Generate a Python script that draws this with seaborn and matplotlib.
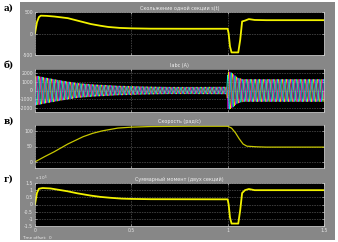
import numpy as np
import pandas as pd
import matplotlib
matplotlib.use("Agg")
import matplotlib.pyplot as plt
import seaborn as sns

sns.set_theme(style="dark")
plt.rcParams['font.family'] = ['DejaVu Sans']

# ---- data ----
panel_labels = ["а)", "б)", "в)", "г)"]
titles = ["Скольжение одной секции s(t)", "Iabc (A)", "Скорость (рад/с)",
          "Суммарный момент (двух секций)"]

# panel a: torque of one section
t_a = [0, 0.01, 0.02, 0.03, 0.06, 0.1, 0.17, 0.22, 0.29, 0.34, 0.38, 0.44, 0.5,
       0.6, 0.8, 1.0, 1.005, 1.012, 1.02, 1.055, 1.065, 1.075, 1.09, 1.11, 1.14, 1.2, 1.5]
v_a = [0, 260, 380, 415, 410, 395, 357, 300, 220, 180, 152, 130, 120,
       112, 110, 110, 0, -300, -440, -440, -150, 280, 300, 335, 315, 310, 310]

# panel b: phase-current envelope (A)
t_b = [0, 0.02, 0.05, 0.1, 0.15, 0.22, 0.3, 0.43, 0.55, 0.7, 0.85, 0.995,
       1.0, 1.01, 1.03, 1.05, 1.08, 1.2, 1.5]
env_b = [1700, 1650, 1500, 1300, 1100, 850, 700, 540, 460, 400, 400, 420,
         2100, 2200, 1900, 1500, 1300, 1300, 1300]
freq_hz = 50

# panel c: speed
t_c = [0, 0.05, 0.1, 0.17, 0.25, 0.3, 0.35, 0.43, 0.5, 0.6, 0.8, 1.0,
       1.02, 1.04, 1.06, 1.08, 1.1, 1.15, 1.2, 1.5]
v_c = [0, 17, 33, 58, 82, 93, 101, 110, 113, 115, 116, 116,
       110, 95, 75, 58, 51, 49, 48, 48]

# panel d: total torque (x 1e5)
t_d = [0, 0.01, 0.02, 0.04, 0.08, 0.17, 0.22, 0.29, 0.34, 0.39, 0.45, 0.5,
       0.6, 1.0, 1.005, 1.012, 1.02, 1.055, 1.065, 1.075, 1.09, 1.11, 1.14, 1.2, 1.5]
v_d = [0, 0.8, 1.1, 1.15, 1.12, 0.92, 0.78, 0.62, 0.53, 0.47, 0.41, 0.39,
       0.37, 0.36, 0, -0.9, -1.33, -1.33, -0.4, 0.8, 1.0, 1.08, 1.0, 1.0, 1.0]

yticks = [[-500, 0, 500], [-2000, -1000, 0, 1000, 2000], [0, 50, 100],
          [-1.5, -1, -0.5, 0, 0.5, 1, 1.5]]
ytick_labels = [["-500", "0", "500"], ["-2000", "-1000", "0", "1000", "2000"],
                ["0", "50", "100"], ["-1.5", "-1", "-0.5", "0", "0.5", "1", "1.5"]]
ylims = [(-500, 500), (-2500, 2500), (-20, 120), (-1.5, 1.5)]
xticks = [0, 0.5, 1, 1.5]
xtick_labels = ["0", "0.5", "1", "1.5"]

# ---- figure ----
fig = plt.figure(figsize=(3.38, 2.42), dpi=100, facecolor="white")
bg = fig.add_axes([20 / 338, 2 / 242, 315 / 338, 238 / 242], zorder=0)
bg.set_facecolor("#878787")
bg.set_xticks([]); bg.set_yticks([])
for s in bg.spines.values():
    s.set_visible(False)

left, width, h = 35 / 338, 289 / 338, 43 / 242
tops = [12, 69, 125, 183]
axes = []
for i, top in enumerate(tops):
    ax = fig.add_axes([left, 1 - (top + 43) / 242, width, h], zorder=2)
    ax.set_facecolor("black")
    axes.append(ax)

yel = "#f2f200"
sns.lineplot(x=t_a, y=v_a, ax=axes[0], color=yel, lw=1.3)
sns.lineplot(x=t_d, y=v_d, ax=axes[3], color=yel, lw=1.3)
sns.lineplot(x=t_c, y=v_c, ax=axes[2], color="#c8c800", lw=0.9)

tt = np.linspace(0, 1.5, 9000)
env = np.interp(tt, t_b, env_b)
for k, col in enumerate(["#ffff00", "#ff00ff", "#00ffff"]):
    yy = env * np.sin(2 * np.pi * freq_hz * tt - k * 2 * np.pi / 3)
    axes[1].plot(tt, yy, color=col, lw=0.45, alpha=0.9)

for i, ax in enumerate(axes):
    ax.set_xlim(0, 1.5)
    ax.set_ylim(*ylims[i])
    ax.set_yticks(yticks[i])
    ax.set_yticklabels(ytick_labels[i])
    ax.set_xticks(xticks)
    ax.set_xticklabels(xtick_labels if i == 3 else [])
    ax.tick_params(axis="both", labelsize=3.3, colors="#e6e6e6", length=1.5,
                   width=0.4, pad=1.5, direction="in", right=True, top=True,
                   left=True, bottom=True)
    ax.grid(True, color="#bdbdbd", linestyle=(0, (1, 2)), linewidth=0.4)
    for s in ax.spines.values():
        s.set_color("#cfcfcf")
        s.set_linewidth(0.4)
    ax.set_xlabel("")
    ax.set_ylabel("")
    ax.set_title(titles[i], fontsize=3.5, color="#f0f0f0", pad=1.5, x=0.5)
    fig.text(4 / 338, 1 - (tops[i] - 4) / 242, panel_labels[i],
             fontsize=6.5, fontweight="bold", family="DejaVu Serif",
             va="center", ha="left", color="black")

fig.text(left, 1 - 178 / 242, "x 10$^5$", fontsize=3, color="#eeeeee", va="center", zorder=5)
fig.text(22 / 338, 1 - 238 / 242, "Time offset:  0", fontsize=3, color="#eeeeee", va="center", zorder=5)

fig.savefig("out.png", dpi=100, facecolor="white")
